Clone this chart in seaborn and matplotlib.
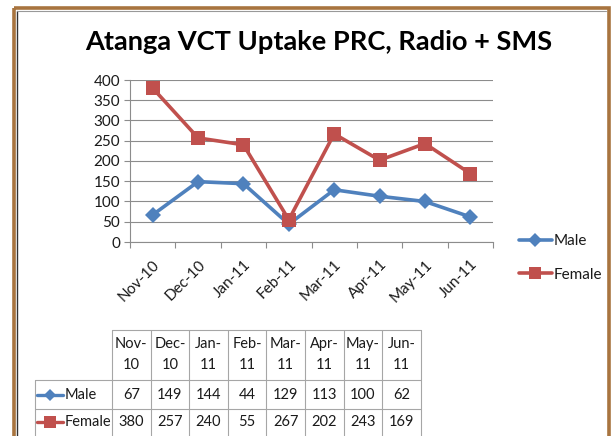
import matplotlib
matplotlib.use("Agg")
import matplotlib.pyplot as plt
from matplotlib.lines import Line2D
from matplotlib.patches import Rectangle
import seaborn as sns
import pandas as pd

months = ["Nov-10", "Dec-10", "Jan-11", "Feb-11", "Mar-11", "Apr-11", "May-11", "Jun-11"]
male = [67, 149, 144, 44, 129, 113, 100, 62]
female = [380, 257, 240, 55, 267, 202, 243, 169]
series_names = ["Male", "Female"]
title = "Atanga VCT Uptake PRC, Radio + SMS"
yticks = [0, 50, 100, 150, 200, 250, 300, 350, 400]

sns.set_theme(style="white")
plt.rcParams["font.family"] = ["Lato", "DejaVu Sans"]

blue = "#4F81BD"
red = "#C0504D"
grid_c = "#8C8C8C"
txt_c = "#1a1a1a"

df = pd.DataFrame({
    "month": months * 2,
    "value": male + female,
    "series": [series_names[0]] * len(months) + [series_names[1]] * len(months),
})

W, H = 611, 436
fig = plt.figure(figsize=(W / 100, H / 100), dpi=100)
fig.patch.set_facecolor("white")

bg = fig.add_axes([0, 0, 1, 1], zorder=0)
bg.set_xlim(0, W)
bg.set_ylim(H, 0)
bg.axis("off")
bg.plot([16.8, 16.8], [11, H + 5], color="#333333", lw=1.0)
bg.plot([16.8, 606], [11.3, 11.3], color="#999999", lw=0.8)
bg.add_patch(Rectangle((14, 8.5), 595, 500, fill=False, edgecolor="#A8743F", lw=2.6))

def px(x0, y0, x1, y1):
    return [x0 / W, 1 - y1 / H, (x1 - x0) / W, (y1 - y0) / H]

ax = fig.add_axes(px(130, 80, 493, 242), zorder=1)
ax.patch.set_alpha(0)
sns.lineplot(data=df, x="month", y="value", hue="series", style="series",
             palette=[blue, red], markers=["D", "s"], dashes=False,
             markersize=8, linewidth=2.6, markeredgewidth=0, ax=ax, legend=False,
             sort=False)
for ln in ax.get_lines():
    if ln.get_marker() == "s":
        ln.set_markersize(10)

ax.set_xlim(-0.5, len(months) - 0.5)
ax.set_ylim(0, 400)
ax.set_yticks(yticks)
ax.set_xticks(range(len(months)))
ax.set_xticklabels(months, rotation=45, ha="right", rotation_mode="anchor", fontsize=11)
ax.set_xticks([i - 0.5 for i in range(len(months) + 1)], minor=True)
ax.tick_params(axis="x", which="major", length=0, pad=11)
ax.tick_params(axis="x", which="minor", length=4, color=grid_c, width=0.8, direction="out", bottom=True)
ax.tick_params(axis="y", length=4, color=grid_c, width=0.8, direction="out", left=True, labelsize=11, pad=3)
ax.set_xlabel("")
ax.set_ylabel("")
ax.grid(axis="y", color=grid_c, lw=0.8)
ax.set_axisbelow(True)
for s in ["top", "right"]:
    ax.spines[s].set_visible(False)
for s in ["left", "bottom"]:
    ax.spines[s].set_color(grid_c)
    ax.spines[s].set_linewidth(0.8)
for lbl in ax.get_yticklabels() + ax.get_xticklabels():
    lbl.set_color(txt_c)

fig.text(319 / W, 1 - 42 / H, title, ha="center", va="center", fontsize=19.6, fontweight="bold", color="black")

handles = [
    Line2D([], [], color=blue, lw=2.6, marker="D", markersize=7, markeredgewidth=0),
    Line2D([], [], color=red, lw=2.6, marker="s", markersize=9, markeredgewidth=0),
]
ax.legend(handles, series_names, loc="center left", bbox_to_anchor=(511 / W, 1 - 258 / H),
          bbox_transform=fig.transFigure, frameon=False, fontsize=11, handlelength=2.2,
          handletextpad=0.1, labelspacing=1.25, borderpad=0, labelcolor=txt_c)

tc = "#A6A6A6"
cols = [112 + i * 38.6 for i in range(len(months) + 1)]
y_top, y_h, y_m, y_f, y_bot = 330, 380, 409, 437, 437
lw_t = 0.8
bg.plot([cols[0], cols[-1]], [y_top, y_top], color=tc, lw=lw_t)
for x in cols:
    bg.plot([x, x], [y_top, y_bot], color=tc, lw=lw_t)
bg.plot([35, 35], [y_h, y_bot], color=tc, lw=lw_t)
bg.plot([35, cols[-1]], [y_h, y_h], color=tc, lw=lw_t)
bg.plot([35, cols[-1]], [y_m, y_m], color=tc, lw=lw_t)
fs_t = 10.5
for i, m in enumerate(months):
    cx = (cols[i] + cols[i + 1]) / 2
    a, b = m.split("-")
    bg.text(cx, 344, a + "-", ha="center", va="center", fontsize=fs_t, color=txt_c)
    bg.text(cx, 365, b, ha="center", va="center", fontsize=fs_t, color=txt_c)
    bg.text(cx, (y_h + y_m) / 2, str(male[i]), ha="center", va="center", fontsize=fs_t, color=txt_c)
    bg.text(cx, (y_m + y_f) / 2 - 1, str(female[i]), ha="center", va="center", fontsize=fs_t, color=txt_c)
for yc, name, col, mk, ms in [((y_h + y_m) / 2, series_names[0], blue, "D", 6),
                               ((y_m + y_f) / 2 - 1, series_names[1], red, "s", 8)]:
    bg.plot([37, 63], [yc, yc], color=col, lw=2.4)
    bg.plot([50], [yc], marker=mk, color=col, markersize=ms, markeredgewidth=0)
    bg.text(65, yc, name, ha="left", va="center", fontsize=fs_t, color=txt_c)

fig.savefig("out.png", dpi=100)
